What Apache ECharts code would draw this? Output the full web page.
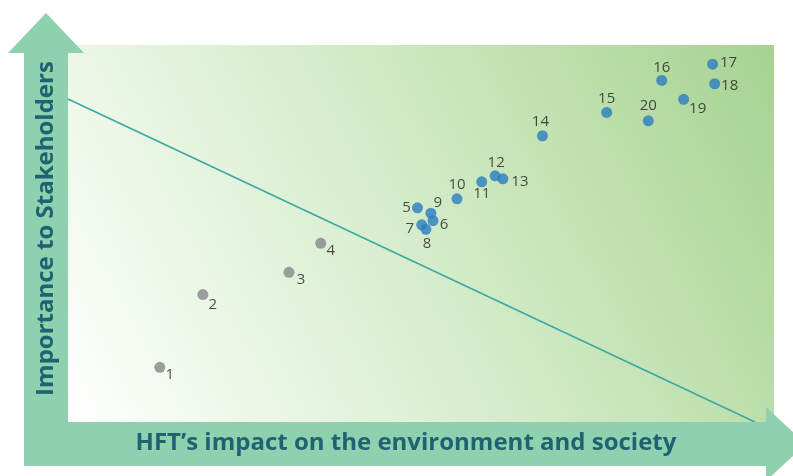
<!DOCTYPE html>
<html>
<head>
<meta charset="utf-8">
<script src="https://cdn.jsdelivr.net/npm/echarts@6/dist/echarts.min.js"></script>
<style>
  html, body { margin: 0; padding: 0; background: #ffffff; }
  #chart { width: 793px; height: 476px; }
</style>
</head>
<body>
<div id="chart"></div>
<script>
// Materiality matrix: topic number, impact score (x) and stakeholder importance (y), 0–10 scale
const topics = ['1','2','3','4','5','6','7','8','9','10','11','12','13','14','15','16','17','18','19','20'];
const impact = [1.30, 1.91, 3.13, 3.58, 4.95, 5.17, 5.01, 5.07, 5.14, 5.51, 5.86, 6.05, 6.16, 6.72, 7.63, 8.41, 9.13, 9.16, 8.72, 8.22];
const importance = [1.45, 3.38, 3.97, 4.74, 5.68, 5.34, 5.23, 5.11, 5.54, 5.92, 6.37, 6.53, 6.45, 7.59, 8.21, 9.06, 9.49, 8.97, 8.56, 7.99];
// topics below the threshold are shown in grey
const lowPriority = ['1','2','3','4'];
// threshold line end points
const thresholdX = [0, 9.73];
const thresholdY = [8.57, 0];

// label offsets around each marker, in pixels
const labelOffset = {
  '1': [10, 7], '2': [10, 10], '3': [12, 7], '4': [10, 7],
  '5': [-11, 0], '6': [11, 4], '7': [-12, 4], '8': [1, 14],
  '9': [7, -10], '10': [0, -14], '11': [0, 12], '12': [1, -13],
  '13': [17, 3], '14': [-2, -14], '15': [0, -14], '16': [0, -13],
  '17': [16, -1], '18': [15, 2], '19': [14, 9], '20': [0, -15]
};

const points = topics.map((t, i) => ({
  name: t,
  value: [impact[i], importance[i]],
  itemStyle: { color: lowPriority.includes(t) ? '#86868b' : '#2a7dbf' },
  label: { offset: labelOffset[t] }
}));

const arrowColor = '#8fd0ae';
const titleFont = {
  fontFamily: 'Open Sans', fontWeight: 700, fontSize: 24,
  color: '#1f6373', verticalAlign: 'middle'
};
const chart = echarts.init(document.getElementById('chart'), null, { renderer: 'canvas' });

chart.setOption({
  animation: false,
  grid: {
    left: 68, top: 45, width: 706, height: 377,
    show: true,
    borderWidth: 0,
    backgroundColor: new echarts.graphic.LinearGradient(0, 1, 1, 0, [
      { offset: 0, color: '#ffffff' },
      { offset: 0.5, color: '#d4ecc9' },
      { offset: 1, color: '#a6d391' }
    ])
  },
  xAxis: {
    type: 'value', min: 0, max: 10, z: 5,
    name: 'HFT’s impact on the environment and society',
    nameLocation: 'middle', nameGap: 21,
    nameTextStyle: Object.assign({ padding: [0, 30, 0, 0] }, titleFont),
    axisLine: { show: false }, axisTick: { show: false },
    axisLabel: { show: false }, splitLine: { show: false }
  },
  yAxis: {
    type: 'value', min: 0, max: 10, z: 5,
    name: 'Importance to Stakeholders',
    nameLocation: 'middle', nameGap: 22, nameRotate: 90,
    nameTextStyle: Object.assign({ padding: [0, 0, 0, 10] }, titleFont),
    axisLine: { show: false }, axisTick: { show: false },
    axisLabel: { show: false }, splitLine: { show: false }
  },
  graphic: {
    elements: [
      {
        type: 'polygon', z: 3, silent: true,
        shape: { points: [[24, 466], [24, 53], [8, 53], [46, 13], [84, 53], [68, 53], [68, 466]] },
        style: { fill: arrowColor }
      },
      {
        type: 'polygon', z: 3, silent: true,
        shape: { points: [[24, 422], [766, 422], [766, 407], [806, 444], [766, 481], [766, 466], [24, 466]] },
        style: { fill: arrowColor }
      }
    ]
  },
  series: [
    {
      type: 'line',
      data: thresholdX.map((x, i) => [x, thresholdY[i]]),
      symbol: 'none',
      lineStyle: { color: '#3aa9a4', width: 1.6 },
      z: 2
    },
    {
      type: 'scatter',
      data: points,
      symbolSize: 11,
      z: 4,
      label: {
        show: true,
        position: 'inside',
        formatter: '{b}',
        align: 'center',
        verticalAlign: 'middle',
        fontFamily: 'Open Sans',
        fontSize: 15,
        color: '#231f20'
      }
    }
  ]
});
</script>
</body>
</html>
